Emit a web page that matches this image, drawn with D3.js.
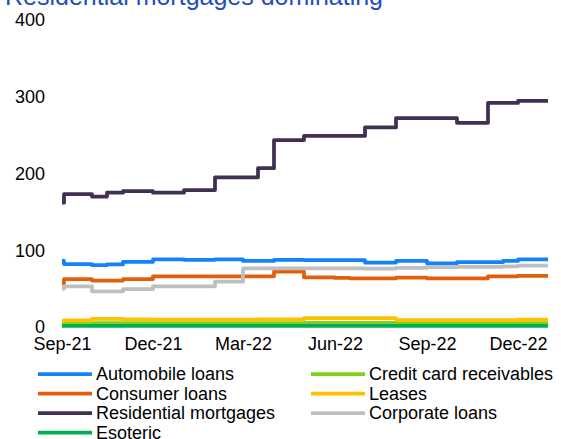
<!doctype html>
<html lang="en">
<head>
  <meta charset="utf-8">
  <title>Residential mortgages dominating</title>
  <style>
    body { margin: 0; background: #fff; }
    svg { display: block; font-family: "Liberation Sans", Arial, sans-serif; }
  </style>
</head>
<body>
<svg id="chart" width="561" height="439" viewBox="0 0 561 439"></svg>

<script src="https://d3js.org/d3.v7.min.js"></script>
<script type="text/javascript">
// half-monthly observation dates (values hold until the next date)
const dates = [
  '2021-09-01', '2021-09-03', '2021-09-16', '2021-10-01', '2021-10-16', '2021-11-01', '2021-11-16',
  '2021-12-01', '2021-12-16', '2022-01-01', '2022-01-16', '2022-02-01', '2022-02-16', '2022-03-01',
  '2022-03-16', '2022-04-01', '2022-04-16', '2022-05-01', '2022-05-16', '2022-06-01', '2022-06-16',
  '2022-07-01', '2022-07-16', '2022-08-01', '2022-08-16', '2022-09-01', '2022-09-16', '2022-10-01',
  '2022-10-16', '2022-11-01', '2022-11-16', '2022-12-01', '2022-12-16', '2022-12-31',
];

const automobile = [86, 82, 82, 80.5, 81.5, 85, 85, 88, 88, 87.5, 87.5, 88, 88, 86, 86, 87.3, 87.3,
  87, 87, 87, 87, 84, 84, 86, 86, 83, 83, 84.5, 84.5, 84.5, 86, 88, 88, 88];
const creditCard = [4.5, 4.5, 4.5, 5, 5, 5, 5, 5, 5, 5, 5, 5, 5, 5, 5, 5, 5,
  5.5, 5.5, 5.5, 5.5, 5.5, 5.5, 5.5, 5.5, 5, 5, 5, 5, 5, 5, 5, 5, 5];
const consumer = [57, 62.5, 62.5, 60.5, 60.5, 62.5, 62.5, 66, 66, 66, 66, 66, 66, 66, 66, 72, 72,
  64.5, 64.5, 64, 63.5, 63.5, 63.5, 64.2, 64.2, 63.5, 63.5, 63.5, 63.5, 66, 66, 66.5, 66.5, 66.5];
const leases = [8, 8.5, 8.5, 10.5, 10.5, 10, 10, 9.5, 9.5, 9.5, 9.5, 9.5, 9.5, 9.5, 10, 10, 10,
  11.5, 11.5, 11.5, 11.5, 11.5, 11.5, 9, 9, 9, 9, 9, 9, 9, 9, 9.5, 9.5, 9.5];
const residential = [162, 173, 173, 170, 175, 177, 177, 175, 175, 178.5, 178.5, 195, 195, 195, 207,
  243.5, 243.5, 249, 249, 249, 249, 260, 260, 272, 272, 272, 272, 266, 266, 292, 292, 294.5, 294.5, 294.5];
const corporate = [50, 53, 53, 46.5, 46.5, 49.5, 49.5, 53, 53, 53, 53, 59, 59, 76.5, 76.5, 76.5, 76.5,
  76.5, 76.5, 76.5, 76.5, 76, 76, 77, 77, 78, 78, 78.5, 78.5, 78.5, 79, 80, 80, 80];
const esoteric = [1.5, 1.5, 1.5, 1.5, 1.5, 1.5, 1.5, 1.5, 1.5, 1.5, 1.5, 1.5, 1.5, 1.5, 1.5, 1.5, 1.5,
  1.5, 1.5, 1.5, 1.5, 1.5, 1.5, 1.5, 1.5, 1.5, 1.5, 1.5, 1.5, 1.5, 1.5, 1.5, 1.5, 1.5];

const seriesNames = ['Automobile loans', 'Credit card receivables', 'Consumer loans', 'Leases',
  'Residential mortgages', 'Corporate loans', 'Esoteric'];
const seriesValues = [automobile, creditCard, consumer, leases, residential, corporate, esoteric];
const seriesColors = ['#1482FA', '#7FD11B', '#E2600C', '#FFC000', '#403152', '#BFBFBF', '#00B050'];

const yTicks = [0, 100, 200, 300, 400];
const xTicks = ['2021-09-01', '2021-12-01', '2022-03-01', '2022-06-01', '2022-09-01', '2022-12-01'];

const parseTime = d3.timeParse('%Y-%m-%d');
const series = seriesNames.map((name, i) => ({
  name: name,
  color: seriesColors[i],
  values: dates.map((d, j) => ({ date: parseTime(d), value: seriesValues[i][j] })),
}));

const chart = d3.select('#chart');
const margin = { top: 20, right: 13, bottom: 112, left: 62 };
const width = 561 - margin.left - margin.right;
const height = 439 - margin.top - margin.bottom;

// title, partly cut off at the top of the picture
chart.append('text')
  .attr('x', 5)
  .attr('y', 5)
  .attr('fill', '#1F4EBF')
  .attr('font-size', 25)
  .text('Residential mortgages dominating');

const inner = chart.append('g')
  .attr('transform', `translate(${margin.left} ${margin.top})`);

const x = d3.scaleTime()
  .domain([parseTime('2021-09-01'), parseTime('2022-12-31')])
  .range([0, width]);
const y = d3.scaleLinear().domain([0, 400]).range([height, 0]);

const yAxis = inner.append('g')
  .call(d3.axisLeft(y).tickValues(yTicks).tickSize(0).tickPadding(17));
yAxis.select('.domain').remove();
yAxis.selectAll('text').attr('font-size', 18).attr('fill', '#000')
  .attr('font-family', '"Liberation Sans", Arial, sans-serif');

const xAxis = inner.append('g')
  .attr('transform', `translate(0 ${height})`)
  .call(d3.axisBottom(x).tickValues(xTicks.map(parseTime)).tickSize(0).tickPadding(10)
    .tickFormat(d3.timeFormat('%b-%y')));
xAxis.select('.domain').remove();
xAxis.selectAll('text').attr('font-size', 18).attr('fill', '#000')
  .attr('font-family', '"Liberation Sans", Arial, sans-serif');

const line = d3.line()
  .curve(d3.curveStepAfter)
  .x(d => x(d.date))
  .y(d => y(d.value));

inner.selectAll('.series')
  .data(series)
  .enter().append('path')
  .attr('class', 'series')
  .attr('fill', 'none')
  .attr('stroke', d => d.color)
  .attr('stroke-width', 3.75)
  .attr('stroke-linejoin', 'round')
  .attr('d', d => line(d.values));

// legend: two columns, filled row by row
const legend = chart.append('g');
const item = legend.selectAll('.item')
  .data(series)
  .enter().append('g')
  .attr('class', 'item')
  .attr('transform', (d, i) => `translate(${i % 2 === 0 ? 38 : 311} ${374 + Math.floor(i / 2) * 19.5})`);
item.append('line')
  .attr('x1', 0).attr('x2', 54)
  .attr('stroke', d => d.color)
  .attr('stroke-width', 3.75);
item.append('text')
  .attr('x', 58)
  .attr('dy', '0.35em')
  .attr('font-size', 18)
  .attr('fill', '#000')
  .text(d => d.name);
</script>
</body>
</html>
